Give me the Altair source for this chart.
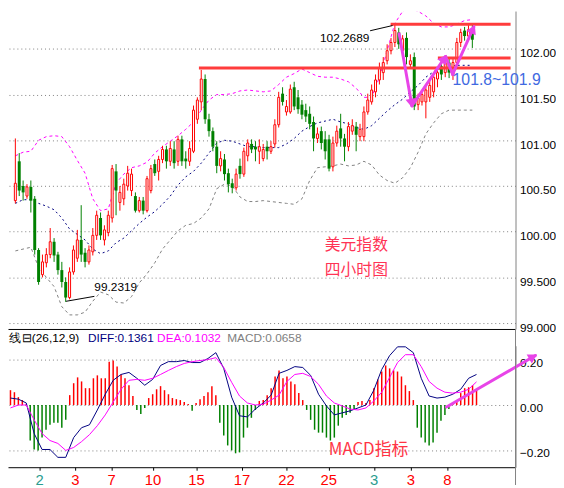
import altair as alt
import pandas as pd

# ---------------- data (4-hour USD index candles) ----------------
candle_open = [100.34,100.77,100.50,100.39,100.49,100.36,99.80,99.53,99.66,99.75,
               99.89,99.75,99.58,99.45,99.28,99.56,99.71,99.91,99.77,99.67,
               99.78,99.96,100.15,99.91,99.99,100.15,100.66,100.32,100.36,100.50,
               100.45,100.39,100.23,100.34,100.23,100.45,100.74,100.66,100.79,100.90,
               100.77,100.90,100.77,101.01,100.80,100.77,100.88,101.23,101.42,101.67,
               101.23,101.10,100.93,100.72,100.79,100.64,100.53,100.48,100.72,100.63,
               100.83,100.96,100.93,100.88,100.80,100.93,100.88,100.96,101.17,101.51,
               101.31,101.31,101.58,101.47,101.39,101.33,101.29,101.20,101.02,101.10,
               101.01,101.01,100.71,100.97,101.13,101.02,100.93,101.10,101.15,101.04,
               101.04,101.31,101.42,101.53,101.66,101.74,101.87,101.98,102.07,102.18,
               101.98,102.12,101.83,101.91,101.39,101.42,101.42,101.47,101.53,101.67,
               101.81,101.74,101.85,101.71,101.85,102.07,102.20,102.14,102.21]
candle_close = [100.53,100.45,100.43,100.49,100.34,99.80,99.45,99.67,99.75,99.89,
                99.74,99.58,99.45,99.28,99.56,99.80,99.91,99.75,99.67,99.80,
                99.96,100.18,99.96,100.02,100.18,100.69,100.45,100.43,100.52,100.64,
                100.63,100.23,100.34,100.23,100.58,100.69,100.64,100.79,100.90,100.77,
                100.91,100.75,101.01,100.77,100.77,100.91,101.33,101.44,101.67,101.23,
                101.10,100.93,100.72,100.80,100.63,100.52,100.48,100.63,100.63,100.88,
                100.97,100.90,100.90,100.93,100.90,100.88,100.93,101.17,101.47,101.42,
                101.37,101.56,101.37,101.34,101.28,101.26,101.18,101.02,101.07,100.97,
                100.88,100.69,100.97,101.10,101.02,100.93,101.15,101.16,101.06,101.12,
                101.31,101.44,101.55,101.66,101.79,101.85,101.98,102.07,102.20,102.05,
                102.11,101.91,101.87,101.37,101.46,101.50,101.55,101.60,101.69,101.74,
                101.72,101.85,101.74,101.85,102.07,102.18,102.14,102.21,102.10]
candle_high = [101.02,100.86,100.56,100.52,100.56,100.39,99.82,99.75,99.82,100.04,
               99.93,99.78,99.67,99.50,99.61,99.85,100.02,100.29,99.82,99.85,
               100.04,100.23,100.21,100.07,100.23,100.73,100.74,100.50,100.58,100.72,
               100.69,100.43,100.38,100.38,100.61,100.73,100.79,100.83,100.94,100.94,
               100.99,100.99,101.05,101.05,100.88,100.99,101.38,101.47,101.77,101.72,
               101.29,101.14,100.99,100.88,100.85,100.69,100.58,100.69,100.80,100.92,
               101.01,101.01,100.99,101.01,100.96,100.99,100.99,101.23,101.53,101.58,
               101.44,101.61,101.64,101.55,101.44,101.40,101.37,101.26,101.14,101.15,
               101.10,101.06,101.04,101.16,101.29,101.07,101.20,101.23,101.20,101.18,
               101.37,101.51,101.61,101.72,101.85,101.91,102.05,102.12,102.2689,102.23,
               102.15,102.18,101.94,101.96,101.51,101.55,101.59,101.66,101.74,101.79,
               101.87,101.91,101.91,101.90,102.12,102.22,102.24,102.26,102.28]
candle_low = [100.31,100.39,100.34,100.36,100.21,99.75,99.42,99.50,99.61,99.71,
              99.67,99.53,99.39,99.2319,99.26,99.53,99.67,99.67,99.61,99.64,
              99.74,99.91,99.91,99.85,99.95,100.10,100.18,100.23,100.29,100.45,
              100.39,100.21,100.21,100.19,100.21,100.42,100.61,100.56,100.75,100.69,
              100.72,100.69,100.72,100.72,100.69,100.72,100.86,101.18,101.33,101.18,
              101.04,100.88,100.64,100.66,100.56,100.43,100.42,100.45,100.58,100.60,
              100.77,100.86,100.77,100.74,100.77,100.79,100.85,100.92,101.14,101.38,
              101.27,101.29,101.33,101.29,101.23,101.20,101.12,100.88,100.97,100.90,
              100.79,100.66,100.66,100.93,100.93,100.77,100.88,101.06,100.88,100.99,
              100.99,101.28,101.39,101.47,101.61,101.66,101.83,101.94,102.02,102.00,
              101.94,101.83,101.79,101.33,101.33,101.38,101.24,101.42,101.47,101.58,
              101.66,101.69,101.68,101.66,101.83,102.02,102.09,102.11,102.01]
macd_hist = [0.066,0.057,0.035,0.022,0.004,-0.158,-0.198,-0.202,-0.145,-0.110,
             -0.088,-0.079,-0.079,-0.101,-0.066,0.044,0.097,0.123,0.105,0.075,
             0.075,0.119,0.132,0.119,0.119,0.193,0.198,0.171,0.136,0.119,
             0.088,0.040,-0.022,-0.040,-0.013,0.031,0.048,0.070,0.084,0.066,
             0.048,0.031,0.026,0.022,0.013,0.004,-0.026,0.009,0.026,0.040,
             0.057,0.084,0.044,-0.079,-0.136,-0.180,-0.202,-0.215,-0.211,-0.145,
             -0.101,-0.057,-0.022,0.018,0.022,0.044,0.075,0.127,0.154,0.119,
             0.127,0.105,0.092,0.053,0.022,-0.022,-0.066,-0.110,-0.123,-0.123,
             -0.145,-0.158,-0.145,-0.092,-0.057,-0.044,-0.035,-0.022,0.013,0.018,
             0.009,0.022,0.075,0.114,0.149,0.176,0.163,0.154,0.149,0.127,
             0.088,0.062,0.022,-0.101,-0.145,-0.167,-0.180,-0.167,-0.123,-0.070,
             -0.044,-0.018,0.009,0.022,0.053,0.075,0.079,0.088,0.066]

# Bollinger bands and MACD lines, sampled every 2nd bar
upper_band = [100.83,100.87,100.88,101.00,101.04,101.05,101.04,100.93,100.78,100.64,
              100.36,100.23,100.25,100.53,100.63,100.70,100.72,100.76,100.86,100.93,
              100.99,101.05,101.12,101.20,101.33,101.44,101.50,101.50,101.51,101.54,
              101.55,101.54,101.53,101.54,101.61,101.69,101.73,101.78,101.74,101.70,
              101.69,101.69,101.67,101.64,101.57,101.47,101.47,101.69,101.98,102.28,
              102.41,102.45,102.41,102.36,102.28,102.24,102.24,102.27,102.31,102.32]
mid_band = [100.31,100.35,100.35,100.31,100.28,100.24,100.15,100.03,99.97,99.91,
            99.81,99.76,99.79,99.88,99.93,100.01,100.09,100.16,100.22,100.30,
            100.39,100.51,100.60,100.66,100.75,100.86,100.97,101.00,100.99,100.96,
            100.93,100.93,100.92,100.92,100.92,100.96,101.02,101.10,101.15,101.19,
            101.21,101.23,101.20,101.18,101.14,101.12,101.16,101.24,101.32,101.39,
            101.45,101.53,101.60,101.69,101.75,101.79,101.81,101.82,101.82,101.82]
lower_band = [99.79,99.81,99.83,99.61,99.50,99.40,99.18,99.09,99.09,99.12,
              99.24,99.34,99.31,99.23,99.22,99.29,99.44,99.54,99.66,99.81,
              99.91,100.01,100.07,100.09,100.15,100.25,100.47,100.52,100.50,100.38,
              100.33,100.33,100.34,100.33,100.32,100.31,100.30,100.36,100.56,100.70,
              100.71,100.72,100.74,100.72,100.73,100.77,100.73,100.62,100.56,100.53,
              100.59,100.70,100.87,101.07,101.19,101.29,101.33,101.33,101.33,101.33]
diff_line = [0.031,0.026,0.009,-0.127,-0.198,-0.198,-0.233,-0.233,-0.145,-0.101,
             -0.088,-0.022,0.048,0.110,0.136,0.145,0.119,0.088,0.114,0.176,
             0.193,0.193,0.198,0.189,0.189,0.207,0.233,0.163,0.035,-0.048,
             -0.053,-0.018,0.009,0.044,0.141,0.154,0.171,0.167,0.132,0.048,
             -0.004,-0.044,-0.035,-0.026,-0.013,0.000,0.066,0.158,0.220,0.259,
             0.259,0.233,0.119,0.040,0.031,0.035,0.048,0.070,0.119,0.136]
dea_line = [-0.013,0.000,0.000,-0.066,-0.127,-0.158,-0.171,-0.202,-0.189,-0.163,
            -0.132,-0.092,-0.044,0.013,0.070,0.110,0.114,0.110,0.119,0.136,
            0.154,0.171,0.185,0.193,0.198,0.202,0.211,0.167,0.101,0.040,
            0.009,0.000,0.004,0.022,0.044,0.105,0.136,0.141,0.127,0.092,
            0.040,0.009,-0.004,-0.018,-0.022,-0.013,0.018,0.057,0.123,0.189,
            0.224,0.224,0.171,0.105,0.075,0.057,0.053,0.057,0.070,0.103]

price_ticks = [99.0, 99.5, 100.0, 100.5, 101.0, 101.5, 102.0]
macd_ticks = [-0.2, 0.0, 0.2]
date_labels = ["2", "3", "7", "10", "15", "17", "22", "25", "3", "3", "8"]
date_pos = [7.4, 16.4, 25.6, 36.1, 47.1, 58.6, 69.9, 80.6, 92.1, 101.4, 110.6]
date_is_month = [True, False, False, False, False, False, False, False, True, False, False]

level_price = [101.79, 102.2689, 101.9]
level_start = [47.4, 96.9, 109.1]

# arrows (bar index, value)
arrow_x0 = [99.1, 102.4, 111.1, 112.9]
arrow_y0 = [102.165, 101.377, 101.917, 101.722]
arrow_x1 = [102.4, 111.1, 112.9, 118.4]
arrow_y1 = [101.377, 101.917, 101.722, 102.241]
head_x = [102.2, 110.5, 118.0]
head_y = [101.42, 101.881, 102.202]
head_angle = [170, 35, 25]

# ---------------- frames ----------------
n = len(candle_close)
df = pd.DataFrame({"i": list(range(n)), "open": candle_open, "high": candle_high,
                   "low": candle_low, "close": candle_close, "macd": macd_hist})
df["zero"] = 0.0
df["dir"] = ["up" if c >= o else "down" for o, c in zip(candle_open, candle_close)]
bands = pd.DataFrame({"i": list(range(0, n, 2)), "upper": upper_band, "mid": mid_band,
                      "lower": lower_band, "diff": diff_line, "dea": dea_line})
levels = pd.DataFrame({"x0": level_start, "x1": [127.875] * 3, "p": level_price})
arrows = pd.DataFrame({"x0": arrow_x0, "y0": arrow_y0, "x1": arrow_x1, "y1": arrow_y1})
dates = pd.DataFrame({"i": date_pos, "label": date_labels, "month": date_is_month})

W, H1, H2 = 514, 322, 123
xs = alt.Scale(domain=[-0.625, 127.875], nice=False, zero=False)
ys = alt.Scale(domain=[98.936, 102.4136], nice=False, zero=False)
ms = alt.Scale(domain=[-0.2769, 0.2637], nice=False, zero=False)

FONT = "Liberation Sans"
CJK = "Noto Sans CJK SC"
RED = "#ff0000"
GREEN = "#008000"
ARROW = "#e844e8"

xaxis_main = alt.Axis(labels=False, ticks=False, grid=False, domainColor="#000000", title=None)
yaxis_main = alt.Axis(orient="right", values=price_ticks,
                      labelExpr="datum.value >= 100 ? format(datum.value, '.2f') : format(datum.value, '.3f')",
                      grid=True, gridColor="#808080", gridDash=[1, 3], ticks=False,
                      domainColor="#808080", labelFont=FONT, labelFontSize=12, labelColor="#000000",
                      labelPadding=4, labelOffset=4, labelFlush=False, labelAlign="left", title=None)
xaxis_macd = alt.Axis(values=date_pos, labels=False, ticks=True, tickSize=3, tickColor="#000000",
                      grid=False, domainColor="#000000", title=None)
yaxis_macd = alt.Axis(orient="right", values=macd_ticks, format=".2f", grid=True, gridColor="#808080",
                      gridDash=[1, 3], ticks=False, domainColor="#808080", labelFont=FONT,
                      labelFontSize=12, labelColor="#000000", labelPadding=4, labelOffset=3,
                      labelFlush=False, labelAlign="left", title=None)


def XM(f="i"):
    return alt.X(f"{f}:Q", scale=xs, axis=xaxis_main)


def YM(f):
    return alt.Y(f"{f}:Q", scale=ys, axis=yaxis_main)


def XB(f="i"):
    return alt.X(f"{f}:Q", scale=xs, axis=xaxis_macd)


def YB(f):
    return alt.Y(f"{f}:Q", scale=ms, axis=yaxis_macd)


# ---------------- main panel ----------------
cb = alt.Chart(bands)
up_l = cb.mark_line(color="#ff00ff", strokeDash=[3, 3], strokeWidth=1, clip=True).encode(x=XM(), y=YM("upper"))
mid_l = cb.mark_line(color="#000080", strokeDash=[2, 3], strokeWidth=1, clip=True).encode(x=XM(), y=YM("mid"))
low_l = cb.mark_line(color="#808080", strokeDash=[3, 3], strokeWidth=1, clip=True).encode(x=XM(), y=YM("lower"))

base = alt.Chart(df)
wick_up = base.transform_filter("datum.dir == 'up'").mark_rule(color=RED, strokeWidth=1).encode(
    x=XM(), y=YM("low"), y2="high:Q")
wick_dn = base.transform_filter("datum.dir == 'down'").mark_rule(color=GREEN, strokeWidth=1).encode(
    x=XM(), y=YM("low"), y2="high:Q")
body_dn = base.transform_filter("datum.dir == 'down'").mark_bar(size=3, color=GREEN).encode(
    x=XM(), y=YM("open"), y2="close:Q")
body_up = base.transform_filter("datum.dir == 'up'").mark_bar(size=2, fill="#ffffff", stroke=RED, strokeWidth=1).encode(
    x=XM(), y=YM("open"), y2="close:Q")

lev = alt.Chart(levels).mark_rule(color="#ff3c3c", strokeWidth=3).encode(x=XM("x0"), x2="x1:Q", y=YM("p"))

lead = alt.Chart(pd.DataFrame({"x0": [91.6, 13.1], "y0": [102.198, 99.239],
                               "x1": [97.4, 20.4], "y1": [102.255, 99.293]})).mark_rule(
    color="#000000", strokeWidth=1).encode(x=XM("x0"), x2="x1:Q", y=YM("y0"), y2="y1:Q")
t_hi = alt.Chart(pd.DataFrame({"x": [91.4], "y": [102.122], "t": ["102.2689"]})).mark_text(
    align="right", baseline="middle", font=FONT, fontSize=12, color="#000000").encode(x=XM("x"), y=YM("y"), text="t:N")
t_lo = alt.Chart(pd.DataFrame({"x": [20.4], "y": [99.39], "t": ["99.2319"]})).mark_text(
    align="left", baseline="middle", font=FONT, fontSize=12, color="#000000").encode(x=XM("x"), y=YM("y"), text="t:N")
t_rng = alt.Chart(pd.DataFrame({"x": [112.9], "y": [101.658], "t": ["101.8~101.9"]})).mark_text(
    align="left", baseline="middle", font=FONT, fontSize=16, color="#4169e1").encode(x=XM("x"), y=YM("y"), text="t:N")
t_cn = alt.Chart(pd.DataFrame({"x": [79.9, 79.9], "y": [99.854, 99.584], "t": ["美元指数", "四小时图"]})).mark_text(
    align="left", baseline="middle", font=CJK, fontSize=16, color="#ff3355").encode(x=XM("x"), y=YM("y"), text="t:N")

arr = alt.Chart(arrows).mark_rule(color=ARROW, strokeWidth=3, strokeCap="round").encode(
    x=XM("x0"), x2="x1:Q", y=YM("y0"), y2="y1:Q")
heads = [alt.Chart(pd.DataFrame({"x": [hx], "y": [hy]})).mark_point(
    shape="triangle", angle=ha, filled=True, size=110, color=ARROW, opacity=1).encode(x=XM("x"), y=YM("y"))
    for hx, hy, ha in zip(head_x, head_y, head_angle)]

main = alt.layer(up_l, mid_l, low_l, wick_dn, wick_up, body_dn, body_up, lev, lead,
                 t_hi, t_lo, t_rng, t_cn, arr, *heads).properties(width=W, height=H1)

# ---------------- MACD panel ----------------
h_pos = base.transform_filter("datum.macd >= 0").mark_rule(color=RED, strokeWidth=1.5).encode(
    x=XB(), y=YB("macd"), y2="zero:Q")
h_neg = base.transform_filter("datum.macd < 0").mark_rule(color=GREEN, strokeWidth=1.5).encode(
    x=XB(), y=YB("macd"), y2="zero:Q")
dif_l = cb.mark_line(color="#000080", strokeWidth=1).encode(x=XB(), y=YB("diff"))
dea_l = cb.mark_line(color="#ff00ff", strokeWidth=1).encode(x=XB(), y=YB("dea"))

hdr_items = [("线", 1, "#000000"), ("⊟(26,12,9)", 14, "#000000"), ("DIFF:0.1361", 81, "#000080"),
             ("DEA:0.1032", 151, "#ff00ff"), ("MACD:0.0658", 222, "#808080")]
hdr = [alt.Chart(pd.DataFrame({"t": [t]})).mark_text(
    align="left", baseline="middle", font=FONT, fontSize=12, color=c).encode(
    x=alt.value(px), y=alt.value(-8), text="t:N") for t, px, c in hdr_items]

d_red = alt.Chart(dates).transform_filter("!datum.month").mark_text(
    align="center", baseline="middle", font=FONT, fontSize=15, color=RED).encode(
    x=XB(), y=alt.value(136), text="label:N")
d_teal = alt.Chart(dates).transform_filter("datum.month").mark_text(
    align="center", baseline="middle", font=FONT, fontSize=15, color="#2a9d8f").encode(
    x=XB(), y=alt.value(136), text="label:N")

t_macd = alt.Chart(pd.DataFrame({"x": [80.6], "y": [-0.202], "t": ["MACD指标"]})).mark_text(
    align="left", baseline="middle", font=CJK, fontSize=17, color="#ff3344").encode(x=XB("x"), y=YB("y"), text="t:N")
m_arr = alt.Chart(pd.DataFrame({"x0": [110.4], "y0": [-0.009], "x1": [132.9], "y1": [0.220]})).mark_rule(
    color=ARROW, strokeWidth=3, strokeCap="round").encode(x=XB("x0"), x2="x1:Q", y=YB("y0"), y2="y1:Q")
m_head = alt.Chart(pd.DataFrame({"x": [132.0], "y": [0.211]})).mark_point(
    shape="triangle", angle=60, filled=True, size=110, color=ARROW, opacity=1).encode(x=XB("x"), y=YB("y"))
frame = alt.Chart(pd.DataFrame({"a": [0]})).mark_rule(color="#808080", strokeWidth=1).encode(
    x=alt.value(W), y=alt.value(-17), y2=alt.value(141))

macd = alt.layer(h_pos, h_neg, dif_l, dea_l, *hdr, d_red, d_teal, t_macd, m_arr, m_head, frame).properties(
    width=W, height=H2)

chart = alt.vconcat(main, macd, spacing=17, bounds="flush", padding=0).configure_view(strokeWidth=0)

chart.save("out.html", embed_options={"renderer": "svg", "actions": False})
